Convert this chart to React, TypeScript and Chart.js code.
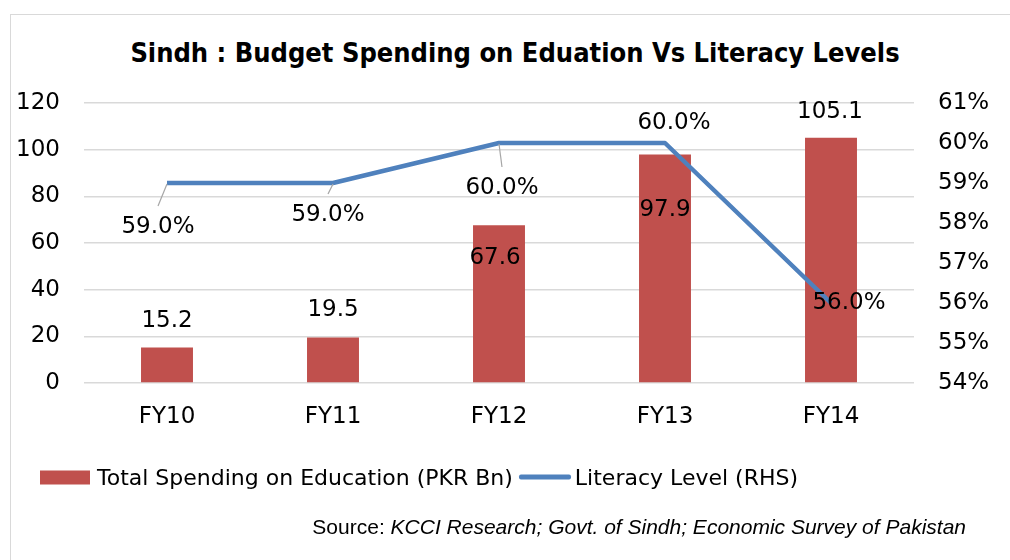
import React, { useEffect, useRef } from "react";
import { Chart, registerables } from "chart.js";

Chart.register(...registerables);

// ---- data ----
const categories = ["FY10", "FY11", "FY12", "FY13", "FY14"];
const spendingBn = [15.2, 19.5, 67.6, 97.9, 105.1];
const literacyPct = [59.0, 59.0, 60.0, 60.0, 56.0];
const leftAxis = { min: 0, max: 120, step: 20 };
const rightAxis = { min: 54, max: 61, step: 1 };

const titleText = "Sindh : Budget Spending on Eduation Vs Literacy Levels";
const barLegend = "Total Spending on Education (PKR Bn)";
const lineLegend = "Literacy Level (RHS)";
const sourceLead = "Source: ";
const sourceRest = "KCCI Research; Govt. of Sindh; Economic Survey of Pakistan";

// ---- style ----
const FONT = "'DejaVu Sans', sans-serif";
const RED = "#C0504D";
const BLUE = "#4F81BD";
const GRID = "#d9d9d9";

// label placement (offsets in px from the mark)
const barLabelOffsets = [
  [0, -27],
  [0, -27],
  [-4, 33],
  [0, 55],
  [-1, -26],
];
const lineLabelOffsets = [
  [-9, 44, true],
  [-5, 32, true],
  [3, 45, true],
  [9, -20, false],
  [18, 0, false],
];

const labelPlugin = {
  id: "valueLabels",
  afterDatasetsDraw(chart: any) {
    const ctx = chart.ctx;
    ctx.save();
    ctx.font = `23px ${FONT}`;
    ctx.fillStyle = "#000";
    ctx.textAlign = "center";
    ctx.textBaseline = "middle";
    const lineMeta = chart.getDatasetMeta(0);
    const barMeta = chart.getDatasetMeta(1);
    barMeta.data.forEach((el: any, i: number) => {
      const [dx, dy] = barLabelOffsets[i];
      ctx.fillText(spendingBn[i].toFixed(1), el.x + dx, el.y + dy);
    });
    lineMeta.data.forEach((el: any, i: number) => {
      const [dx, dy, leader] = lineLabelOffsets[i] as [number, number, boolean];
      const lx = el.x + dx;
      const ly = el.y + dy;
      if (leader) {
        ctx.strokeStyle = "#a6a6a6";
        ctx.lineWidth = 1.2;
        ctx.beginPath();
        ctx.moveTo(el.x, el.y + 1);
        ctx.lineTo(lx, ly - 21);
        ctx.stroke();
      }
      ctx.fillText(literacyPct[i].toFixed(1) + "%", lx, ly);
    });
    ctx.restore();
  },
};

function ChartCanvas() {
  const ref = useRef<HTMLCanvasElement | null>(null);
  useEffect(() => {
    if (!ref.current) return;
    const chart = new Chart(ref.current, {
      type: "bar",
      data: {
        labels: categories,
        datasets: [
          {
            type: "line",
            label: lineLegend,
            data: literacyPct,
            yAxisID: "y1",
            borderColor: BLUE,
            backgroundColor: BLUE,
            borderWidth: 4.5,
            pointRadius: 0,
            tension: 0,
            borderJoinStyle: "round",
            order: 0,
          } as any,
          {
            type: "bar",
            label: barLegend,
            data: spendingBn,
            yAxisID: "y",
            backgroundColor: RED,
            barPercentage: 0.313,
            categoryPercentage: 1,
            order: 1,
          } as any,
        ],
      },
      options: {
        responsive: false,
        animation: false,
        maintainAspectRatio: false,
        layout: { padding: { top: 103, bottom: 117, left: 0, right: 0 } },
        plugins: {
          legend: { display: false },
          title: { display: false },
          tooltip: { enabled: false },
        },
        scales: {
          x: {
            grid: { display: false },
            border: { display: false },
            ticks: { font: { family: FONT, size: 23 }, color: "#000", padding: 12 },
            afterFit: (s: any) => {
              s.height = 60;
            },
          },
          y: {
            position: "left",
            min: leftAxis.min,
            max: leftAxis.max,
            ticks: {
              stepSize: leftAxis.step,
              font: { family: FONT, size: 23 },
              color: "#000",
              padding: 24,
            },
            grid: { color: GRID, lineWidth: 1.5, drawTicks: false },
            border: { display: false },
            afterFit: (s: any) => {
              s.width = 84;
            },
          },
          y1: {
            position: "right",
            min: rightAxis.min,
            max: rightAxis.max,
            ticks: {
              stepSize: rightAxis.step,
              font: { family: FONT, size: 23 },
              color: "#000",
              padding: 24,
              callback: (v: any) => `${v}%`,
            },
            grid: { drawOnChartArea: false, drawTicks: false },
            border: { display: false },
            afterFit: (s: any) => {
              s.width = 96;
            },
          },
        },
      },
      plugins: [labelPlugin],
    });
    return () => chart.destroy();
  }, []);
  return (
    <canvas
      ref={ref}
      width={1010}
      height={560}
      style={{ position: "absolute", left: 0, top: 0, width: 1010, height: 560 }}
    />
  );
}

export default function App() {
  return (
    <div
      style={{
        position: "fixed",
        left: 0,
        top: 0,
        width: 1010,
        height: 560,
        overflow: "hidden",
        background: "#fff",
      }}
    >
      <div
        style={{
          position: "absolute",
          left: 10,
          top: 14,
          width: 1100,
          height: 700,
          border: `1px solid ${GRID}`,
        }}
      />
      <div
        style={{
          position: "absolute",
          left: 15,
          width: 1000,
          top: 53,
          transform: "translateY(-50%)",
          textAlign: "center",
          fontFamily: "'DejaVu Sans Condensed', 'DejaVu Sans', sans-serif",
          fontWeight: "bold",
          fontSize: 27,
          lineHeight: "34px",
          color: "#000",
          whiteSpace: "nowrap",
        }}
      >
        {titleText}
      </div>
      <ChartCanvas />
      <div
        style={{
          position: "absolute",
          left: 40,
          top: 477,
          transform: "translateY(-50%)",
          display: "flex",
          alignItems: "center",
          fontFamily: FONT,
          fontSize: 22,
          color: "#000",
          whiteSpace: "nowrap",
        }}
      >
        <span style={{ display: "inline-block", width: 50, height: 14, background: RED, marginRight: 7 }} />
        <span>{barLegend}</span>
        <span
          style={{ display: "inline-block", width: 52, height: 5, background: BLUE, marginLeft: 6, marginRight: 4, borderRadius: 2 }}
        />
        <span>{lineLegend}</span>
      </div>
      <div
        style={{
          position: "absolute",
          right: 1010 - 966,
          top: 527,
          transform: "translateY(-50%)",
          fontFamily: "'Liberation Sans', sans-serif",
          fontSize: 21,
          color: "#000",
          whiteSpace: "nowrap",
        }}
      >
        {sourceLead}
        <i>{sourceRest}</i>
      </div>
    </div>
  );
}
